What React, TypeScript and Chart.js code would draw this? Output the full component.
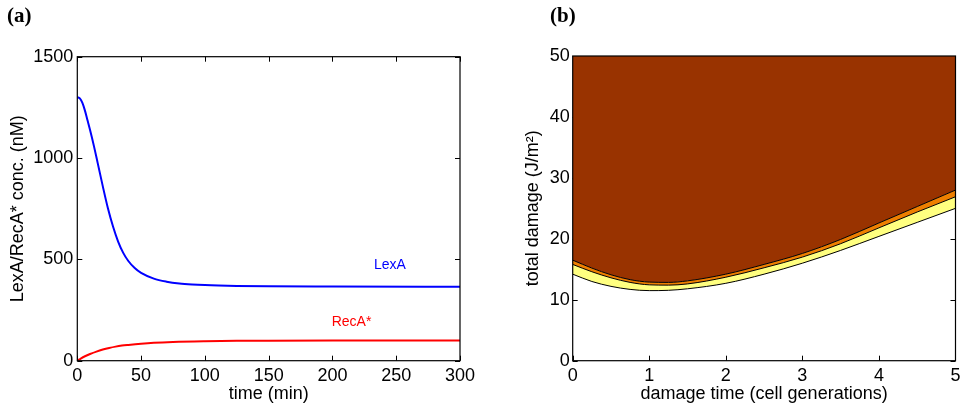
import React, { useEffect, useRef } from "react";
import { Chart, registerables } from "chart.js";

Chart.register(...registerables);

// ---------- Panel (a) data ----------
const lexATime = [0, 2, 4, 6, 8, 10, 13, 16, 20, 24, 28, 32, 36, 40, 45, 50, 60, 70, 80, 90, 100, 125, 150, 200, 300];
const lexAConc = [1300, 1294, 1272, 1234, 1186, 1138, 1060, 975, 860, 752, 662, 588, 532, 492, 457, 433, 405, 390, 381, 376, 373, 369, 367, 366, 365];
const recATime = [0, 3, 6, 10, 15, 20, 25, 30, 35, 40, 50, 60, 75, 100, 125, 150, 200, 300];
const recAConc = [0, 12, 22, 33, 45, 55, 63, 69.5, 74.5, 78, 84, 88.5, 92.5, 96, 98, 99, 99.8, 100];
const seriesNames = ["LexA", "RecA*"];
const seriesLabelAt = [
  { x: 245, y: 472 },
  { x: 215, y: 190 },
];

// ---------- Panel (b) data ----------
const damageTime = [0, 0.25, 0.5, 0.75, 1, 1.25, 1.5, 2, 2.5, 3, 3.5, 4, 4.5, 5];
const upperBoundary = [16.5, 15.2, 14.1, 13.3, 12.9, 12.85, 13.1, 14.2, 15.8, 17.6, 19.9, 22.6, 25.3, 28.0];
const middleBoundary = [15.8, 14.6, 13.6, 12.85, 12.45, 12.4, 12.6, 13.7, 15.25, 17.0, 19.2, 21.8, 24.4, 26.9];
const lowerBoundary = [14.2, 13.0, 12.2, 11.7, 11.5, 11.55, 11.8, 12.7, 14.2, 16.0, 18.1, 20.4, 22.7, 25.0];

const FONT = "'Liberation Sans', Arial, Helvetica, sans-serif";

const pts = (xs: number[], ys: number[]) => xs.map((x, i) => ({ x, y: ys[i] }));

const boxTicks = {
  id: "boxTicks",
  beforeDatasetsDraw(chart: any) {
    const { ctx, chartArea: a, scales } = chart;
    const L = 5;
    ctx.save();
    ctx.strokeStyle = "#000";
    ctx.lineWidth = 1;
    ctx.beginPath();
    for (const t of scales.x.ticks) {
      const px = Math.round(scales.x.getPixelForValue(t.value)) + 0.5;
      ctx.moveTo(px, a.bottom);
      ctx.lineTo(px, a.bottom - L);
      ctx.moveTo(px, a.top);
      ctx.lineTo(px, a.top + L);
    }
    for (const t of scales.y.ticks) {
      const py = Math.round(scales.y.getPixelForValue(t.value)) + 0.5;
      ctx.moveTo(a.left, py);
      ctx.lineTo(a.left + L, py);
      ctx.moveTo(a.right, py);
      ctx.lineTo(a.right - L, py);
    }
    ctx.stroke();
    ctx.restore();
  },
  afterDatasetsDraw(chart: any) {
    const { ctx, chartArea: a } = chart;
    ctx.save();
    ctx.strokeStyle = "#000";
    ctx.lineWidth = 1.2;
    ctx.strokeRect(a.left, a.top, a.right - a.left, a.bottom - a.top);
    ctx.restore();
  },
};

const seriesText = {
  id: "seriesText",
  afterDatasetsDraw(chart: any) {
    const { ctx, scales } = chart;
    ctx.save();
    ctx.font = `14px ${FONT}`;
    ctx.textAlign = "center";
    ctx.textBaseline = "middle";
    chart.data.datasets.forEach((ds: any, i: number) => {
      const pos = seriesLabelAt[i];
      ctx.fillStyle = ds.borderColor;
      ctx.fillText(seriesNames[i], scales.x.getPixelForValue(pos.x), scales.y.getPixelForValue(pos.y));
    });
    ctx.restore();
  },
};

function axisOptions(
  min: number,
  max: number,
  step: number,
  title: string,
  isX: boolean,
  size: number,
  tickPad: number
) {
  return {
    type: "linear",
    min,
    max,
    grid: { display: false, drawTicks: false },
    border: { display: false },
    ticks: {
      stepSize: step,
      padding: tickPad,
      color: "#000",
      font: { family: FONT, size: 18 },
      callback: (v: any) => String(v),
      maxRotation: 0,
      autoSkip: false,
    },
    title: {
      display: true,
      text: title,
      color: "#000",
      font: { family: FONT, size: 18 },
      padding: isX ? { top: 0, bottom: 1.5 } : { top: 7.5, bottom: 0 },
    },
    afterFit: (s: any) => {
      if (isX) s.height = size;
      else s.width = size;
    },
  };
}

function PanelA() {
  const ref = useRef<HTMLCanvasElement>(null);
  useEffect(() => {
    const chart = new Chart(ref.current!, {
      type: "line",
      data: {
        datasets: [
          {
            label: seriesNames[0],
            data: pts(lexATime, lexAConc),
            borderColor: "#0000ff",
            borderWidth: 2,
            pointRadius: 0,
            cubicInterpolationMode: "monotone",
            fill: false,
          },
          {
            label: seriesNames[1],
            data: pts(recATime, recAConc),
            borderColor: "#ff0000",
            borderWidth: 2,
            pointRadius: 0,
            cubicInterpolationMode: "monotone",
            fill: false,
          },
        ],
      },
      options: {
        responsive: false,
        animation: false,
        devicePixelRatio: 1,
        layout: { padding: { top: 56.7, right: 20, left: 0, bottom: 0 } },
        plugins: { legend: { display: false }, tooltip: { enabled: false } },
        scales: {
          x: axisOptions(0, 300, 50, "time (min)", true, 45.3, 4.5),
          y: axisOptions(0, 1500, 500, "LexA/RecA* conc. (nM)", false, 77.3, 4),
        },
      } as any,
      plugins: [boxTicks, seriesText],
    });
    return () => chart.destroy();
  }, []);
  return <canvas ref={ref} width={480} height={406} />;
}

function PanelB() {
  const ref = useRef<HTMLCanvasElement>(null);
  useEffect(() => {
    const common = {
      borderColor: "#000",
      borderWidth: 1,
      pointRadius: 0,
      cubicInterpolationMode: "monotone",
    };
    const chart = new Chart(ref.current!, {
      type: "line",
      data: {
        datasets: [
          { ...common, label: "upper", data: pts(damageTime, upperBoundary), fill: "end", backgroundColor: "#993300" },
          { ...common, label: "middle", data: pts(damageTime, middleBoundary), fill: "-1", backgroundColor: "#ee7f00" },
          { ...common, label: "lower", data: pts(damageTime, lowerBoundary), fill: "-1", backgroundColor: "#ffff80" },
        ],
      },
      options: {
        responsive: false,
        animation: false,
        devicePixelRatio: 1,
        layout: { padding: { top: 56, right: 6.3, left: 0, bottom: 0 } },
        plugins: { legend: { display: false }, tooltip: { enabled: false } },
        scales: {
          x: axisOptions(0, 5, 1, "damage time (cell generations)", true, 45.3, 4.5),
          y: axisOptions(0, 50, 10, "total damage (J/m\u00B2)", false, 57.7, 3),
        },
      } as any,
      plugins: [boxTicks],
    });
    return () => chart.destroy();
  }, []);
  return <canvas ref={ref} width={450} height={406} />;
}

const panelLabel: React.CSSProperties = {
  position: "absolute",
  top: 5,
  fontFamily: "'Liberation Serif', 'Times New Roman', serif",
  fontWeight: "bold",
  fontSize: 21,
  lineHeight: 1,
  color: "#000",
};

export default function App() {
  return (
    <div style={{ position: "absolute", left: 0, top: 0, width: 965, height: 406, background: "#fff", overflow: "hidden" }}>
      <div style={{ position: "absolute", left: 0, top: 0, width: 480, height: 406 }}>
        <PanelA />
      </div>
      <div style={{ position: "absolute", left: 515, top: 0, width: 450, height: 406 }}>
        <PanelB />
      </div>
      <div style={{ ...panelLabel, left: 7 }}>(a)</div>
      <div style={{ ...panelLabel, left: 550 }}>(b)</div>
    </div>
  );
}
